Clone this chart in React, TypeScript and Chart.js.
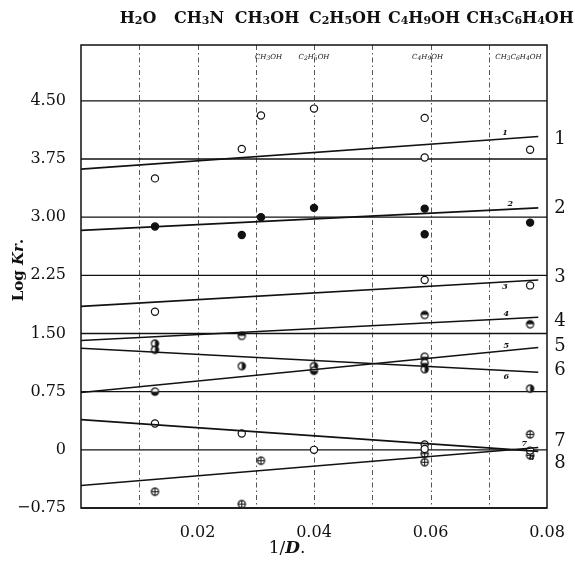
import React, { useEffect, useRef } from 'react';
import { Chart, registerables } from 'chart.js';
Chart.register(...registerables);

// ---- data ----
const solvents = ['H2O', 'CH3N', 'CH3OH', 'C2H5OH', 'C4H9OH', 'CH3C6H4OH'];
const solventLabelX = [138, 199, 267, 345, 424, 520];
const solventX = [0.0127, 0.0276, 0.0309, 0.04, 0.059, 0.0771];
const xTicks = [0.02, 0.04, 0.06, 0.08];
const yTicks = [-0.75, 0, 0.75, 1.5, 2.25, 3.0, 3.75, 4.5];
const xGrid = [0.01, 0.02, 0.03, 0.04, 0.05, 0.06, 0.07];

const s1Idx = [0, 1, 2, 3, 4, 4, 5];
const s1Val = [3.5, 3.88, 4.31, 4.4, 4.28, 3.77, 3.87];
const s2Idx = [0, 1, 2, 3, 4, 4, 5];
const s2Val = [2.88, 2.77, 3.0, 3.12, 3.11, 2.78, 2.93];
const s3Idx = [0, 4, 5];
const s3Val = [1.78, 2.19, 2.12];
const s4Idx = [1, 4, 5];
const s4Val = [1.47, 1.74, 1.62];
const s5Idx = [0, 3, 4, 4];
const s5Val = [0.75, 1.02, 1.2, 1.12];
const s6Idx = [0, 0, 1, 3, 4, 5];
const s6Val = [1.37, 1.29, 1.08, 1.08, 1.04, 0.79];
const s7Idx = [0, 1, 3, 4, 4, 5];
const s7Val = [0.34, 0.21, 0.0, 0.07, 0.01, -0.01];
const s8Idx = [0, 1, 2, 4, 4, 5, 5];
const s8Val = [-0.54, -0.7, -0.14, -0.05, -0.16, 0.2, -0.07];

const lineX = [0, 0.0785];
const lineStart = [3.62, 2.83, 1.85, 1.41, 0.74, 1.31, 0.39, -0.46];
const lineEnd = [4.04, 3.12, 2.19, 1.71, 1.32, 1.0, -0.02, 0.03];
const seriesLabels = ['1', '2', '3', '4', '5', '6', '7', '8'];
const rightLabelY = [4.01, 3.11, 2.23, 1.66, 1.34, 1.02, 0.11, -0.18];
const lineNoteX = [0.0728, 0.0737, 0.0728, 0.073, 0.073, 0.073, 0.0761, 0.0774];
const lineNoteY = [4.08, 3.17, 2.1, 1.75, 1.34, 0.94, 0.08, -0.1];
const topNotes = ['CH3OH', 'C2H5OH', 'C4H9OH', 'CH3C6H4OH'];
const topNoteX = [0.0322, 0.04, 0.0595, 0.0751];

function makeMarker(kind: string): HTMLCanvasElement {
  const c = document.createElement('canvas');
  c.width = 11; c.height = 11;
  const g = c.getContext('2d')!;
  const cx = 5.5, cy = 5.5, r = 3.6;
  g.lineWidth = 1.2;
  g.strokeStyle = '#111';
  g.fillStyle = '#fff';
  g.beginPath(); g.arc(cx, cy, r, 0, Math.PI * 2); g.fill();
  g.fillStyle = '#111';
  if (kind === 'top') { g.beginPath(); g.arc(cx, cy, r, Math.PI, 0); g.closePath(); g.fill(); }
  if (kind === 'bottom') { g.beginPath(); g.arc(cx, cy, r, 0, Math.PI); g.closePath(); g.fill(); }
  if (kind === 'right') { g.beginPath(); g.arc(cx, cy, r, -Math.PI / 2, Math.PI / 2); g.closePath(); g.fill(); }
  g.beginPath(); g.arc(cx, cy, r, 0, Math.PI * 2); g.stroke();
  if (kind === 'cross') {
    g.beginPath();
    g.moveTo(cx - r, cy); g.lineTo(cx + r, cy);
    g.moveTo(cx, cy - r); g.lineTo(cx, cy + r);
    g.lineWidth = 1; g.stroke();
  }
  return c;
}

function drawFormula(ctx: CanvasRenderingContext2D, s: string, cx: number, cy: number, big: number, small: number, weight: string, style: string) {
  const parts = s.match(/\d+|\D+/g) || [];
  const fam = '"DejaVu Serif", serif';
  const fBig = `${style} ${weight} ${big}px ${fam}`;
  const fSmall = `${style} ${weight} ${small}px ${fam}`;
  let w = 0;
  parts.forEach(p => { ctx.font = /\d/.test(p) ? fSmall : fBig; w += ctx.measureText(p).width; });
  let x = cx - w / 2;
  ctx.textBaseline = 'alphabetic';
  ctx.textAlign = 'left';
  parts.forEach(p => {
    const sub = /\d/.test(p);
    ctx.font = sub ? fSmall : fBig;
    ctx.fillText(p, x, cy + (sub ? big * 0.38 + 1 : big * 0.36));
    x += ctx.measureText(p).width;
  });
}

export default function App() {
  const ref = useRef<HTMLCanvasElement | null>(null);
  useEffect(() => {
    if (!ref.current) return;
    const mk = (idx: number[], vals: number[]) => idx.map((i, k) => ({ x: solventX[i], y: vals[k] }));
    const lineDs = lineStart.map((v, i) => ({
      label: 'fit ' + seriesLabels[i],
      data: [{ x: lineX[0], y: v }, { x: lineX[1], y: lineEnd[i] }],
      showLine: true,
      borderColor: '#111',
      borderWidth: 1.6,
      pointRadius: 0,
      fill: false,
    }));
    const ptDs = (label: string, data: any[], style: any, bg = '#fff') => ({
      label, data, showLine: false,
      pointStyle: style, pointRadius: 3.6,
      backgroundColor: bg, borderColor: '#111', borderWidth: 1.2,
    });
    const datasets: any[] = [
      ...lineDs,
      ptDs('1', mk(s1Idx, s1Val), 'circle'),
      ptDs('2', mk(s2Idx, s2Val), 'circle', '#111'),
      ptDs('3', mk(s3Idx, s3Val), 'circle'),
      ptDs('4', mk(s4Idx, s4Val), makeMarker('top')),
      ptDs('5', mk(s5Idx, s5Val), makeMarker('bottom')),
      ptDs('6', mk(s6Idx, s6Val), makeMarker('right')),
      ptDs('7', mk(s7Idx, s7Val), 'circle'),
      ptDs('8', mk(s8Idx, s8Val), makeMarker('cross')),
    ];

    const deco = {
      id: 'deco',
      beforeDatasetsDraw(chart: any) {
        const { ctx, chartArea: a, scales } = chart;
        const xs = scales.x, ys = scales.y;
        ctx.save();
        ctx.strokeStyle = '#555';
        ctx.lineWidth = 1;
        ctx.setLineDash([5, 3, 1.5, 3]);
        xGrid.forEach(v => {
          const px = Math.round(xs.getPixelForValue(v)) + 0.5;
          ctx.beginPath(); ctx.moveTo(px, a.top); ctx.lineTo(px, a.bottom); ctx.stroke();
        });
        ctx.setLineDash([]);
        ctx.strokeStyle = '#111';
        ctx.lineWidth = 1.4;
        yTicks.forEach(v => {
          const py = ys.getPixelForValue(v);
          ctx.beginPath(); ctx.moveTo(a.left, py); ctx.lineTo(a.right, py); ctx.stroke();
        });
        ctx.lineWidth = 1.5;
        ctx.strokeRect(a.left, a.top, a.right - a.left, a.bottom - a.top);
        ctx.restore();
      },
      afterDraw(chart: any) {
        const { ctx, scales } = chart;
        const xs = scales.x, ys = scales.y;
        ctx.save();
        ctx.fillStyle = '#111';
        // solvent headers
        solvents.forEach((s, i) => drawFormula(ctx, s, solventLabelX[i], 17, 16, 11, 'bold', 'normal'));
        // small handwritten notes at top
        topNotes.forEach((s, i) => drawFormula(ctx, s, xs.getPixelForValue(topNoteX[i]), 56, 7, 6, 'normal', 'italic'));
        // right-side series numbers
        ctx.font = '18px "DejaVu Serif", serif';
        ctx.textAlign = 'center';
        ctx.textBaseline = 'middle';
        seriesLabels.forEach((s, i) => ctx.fillText(s, 560, ys.getPixelForValue(rightLabelY[i])));
        // small notes on the lines
        ctx.font = 'italic bold 8px "DejaVu Serif", serif';
        seriesLabels.forEach((s, i) => ctx.fillText(s, xs.getPixelForValue(lineNoteX[i]), ys.getPixelForValue(lineNoteY[i])));
        // x title
        ctx.textBaseline = 'middle';
        ctx.textAlign = 'left';
        const t1 = '1/';
        ctx.font = '17px "DejaVu Serif", serif';
        const w1 = ctx.measureText(t1).width;
        ctx.font = 'italic bold 17px "DejaVu Serif", serif';
        const w2 = ctx.measureText('D').width;
        ctx.font = '17px "DejaVu Serif", serif';
        const w3 = ctx.measureText('.').width;
        let x0 = 287 - (w1 + w2 + w3) / 2;
        ctx.fillText(t1, x0, 549); x0 += w1;
        ctx.font = 'italic bold 17px "DejaVu Serif", serif';
        ctx.fillText('D', x0, 549); x0 += w2;
        ctx.font = '17px "DejaVu Serif", serif';
        ctx.fillText('.', x0, 549);
        // y title
        ctx.translate(19, 270);
        ctx.rotate(-Math.PI / 2);
        ctx.font = 'bold 15px "DejaVu Serif", serif';
        const a1 = ctx.measureText('Log ').width;
        ctx.font = 'italic bold 15px "DejaVu Serif", serif';
        const a2 = ctx.measureText('Kr').width;
        ctx.font = 'bold 15px "DejaVu Serif", serif';
        const a3 = ctx.measureText('.').width;
        let y0 = -(a1 + a2 + a3) / 2;
        ctx.fillText('Log ', y0, 0); y0 += a1;
        ctx.font = 'italic bold 15px "DejaVu Serif", serif';
        ctx.fillText('Kr', y0, 0); y0 += a2;
        ctx.font = 'bold 15px "DejaVu Serif", serif';
        ctx.fillText('.', y0, 0);
        ctx.restore();
      },
    };

    const tickFont = { family: '"DejaVu Serif", serif', size: 16 };
    const chart = new Chart(ref.current, {
      type: 'scatter',
      data: { datasets },
      options: {
        animation: false,
        responsive: false,
        maintainAspectRatio: false,
        layout: { padding: { top: 45, right: 28, left: 0, bottom: 0 } },
        plugins: { legend: { display: false }, tooltip: { enabled: false } },
        scales: {
          x: {
            type: 'linear', min: 0, max: 0.08,
            grid: { display: false },
            border: { display: false },
            afterBuildTicks: (s: any) => { s.ticks = xTicks.map(v => ({ value: v })); },
            afterFit: (s: any) => { s.height = 60; },
            ticks: {
              padding: 7, color: '#111', font: tickFont, maxRotation: 0, autoSkip: false,
              callback: (v: any) => Number(v).toFixed(2),
            },
          },
          y: {
            type: 'linear', min: -0.75, max: 5.22,
            grid: { display: false },
            border: { display: false },
            afterBuildTicks: (s: any) => { s.ticks = yTicks.map(v => ({ value: v })); },
            afterFit: (s: any) => { s.width = 81; },
            ticks: {
              padding: 7, color: '#111', font: tickFont, autoSkip: false,
              callback: (v: any) => {
                const n = Number(v);
                if (Math.abs(n) < 1e-9) return '0';
                return n < 0 ? '\u2212' + Math.abs(n).toFixed(2) : n.toFixed(2);
              },
            },
          },
        },
      },
      plugins: [deco],
    } as any);
    return () => chart.destroy();
  }, []);
  return (
    <div style={{ position: 'fixed', left: 0, top: 0, width: 575, height: 568, background: '#fff' }}>
      <canvas ref={ref} width={575} height={568} style={{ width: 575, height: 568 }} />
    </div>
  );
}
